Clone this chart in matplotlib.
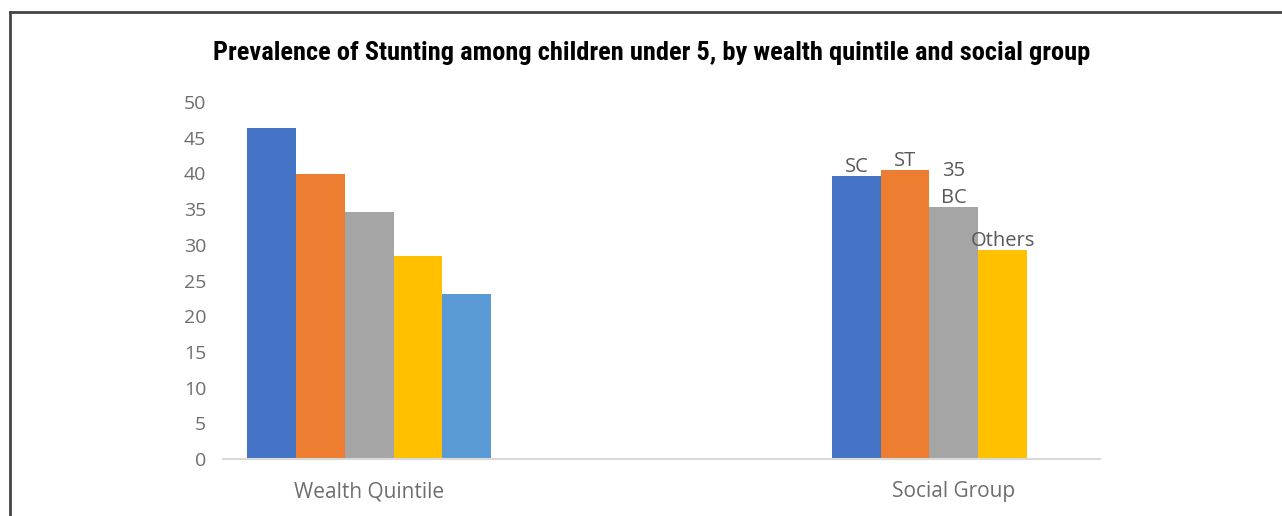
import matplotlib.pyplot as plt
from matplotlib.lines import Line2D

# data
categories = ["Wealth Quintile", "Social Group"]
wealth_values = [46.3, 39.9, 34.6, 28.4, 23.1]
social_labels = ["SC", "ST", "BC", "Others"]
social_values = [39.7, 40.5, 35.3, 29.3]
bc_value_label = "35"
y_ticks = [0, 5, 10, 15, 20, 25, 30, 35, 40, 45, 50]

wealth_colors = ["#4472c4", "#ed7d31", "#a5a5a5", "#ffc000", "#5b9bd5"]
social_colors = ["#4472c4", "#ed7d31", "#a5a5a5", "#ffc000"]

fig = plt.figure(figsize=(12.82, 5.16), dpi=100)
W, H = 1282, 516
ax = fig.add_axes([223 / W, 1 - 459 / H, (1100 - 223) / W, (459 - 102) / H])

wealth_x = [1, 2, 3, 4, 5]
social_x = [13, 14, 15, 16]
ax.bar(wealth_x, wealth_values, width=1.0, color=wealth_colors)
ax.bar(social_x, social_values, width=1.0, color=social_colors)

txt = dict(color="#595959", fontsize=14.5, family=["Open Sans", "DejaVu Sans"])
for x, v, lab in zip(social_x, social_values, social_labels):
    ax.text(x, v - 0.2, lab, ha="center", va="bottom", **txt)
ax.text(social_x[2], social_values[2] + 3.6, bc_value_label, ha="center", va="bottom", **txt)

ax.set_xlim(0, 18)
ax.set_ylim(0, 50)
ax.set_yticks(y_ticks)
ax.set_xticks([3, 15])
ax.set_xticklabels(categories)
ax.tick_params(axis="both", length=0, labelcolor="#6e6e6e")
ax.tick_params(axis="x", pad=16, labelsize=15)
ax.tick_params(axis="y", pad=12, labelsize=14)
for lab in ax.get_xticklabels() + ax.get_yticklabels():
    lab.set_family(["Open Sans", "DejaVu Sans"])
for s in ["top", "right", "left"]:
    ax.spines[s].set_visible(False)
ax.spines["bottom"].set_color("#d9d9d9")
ax.spines["bottom"].set_linewidth(1.5)

fig.text(652 / W, 1 - 53 / H,
         "Prevalence of Stunting among children under 5, by wealth quintile and social group",
         ha="center", va="center", fontsize=19, fontweight="bold",
         family=["Roboto Condensed", "DejaVu Sans"], color="black")

# frame lines at top and left
fig.add_artist(Line2D([10 / W, 10 / W], [0, 1 - 12 / H], color="#444444", lw=2,
                      transform=fig.transFigure))
fig.add_artist(Line2D([10 / W, 1], [1 - 12 / H, 1 - 12 / H], color="#444444", lw=2,
                      transform=fig.transFigure))

fig.savefig("out.png", dpi=100)
